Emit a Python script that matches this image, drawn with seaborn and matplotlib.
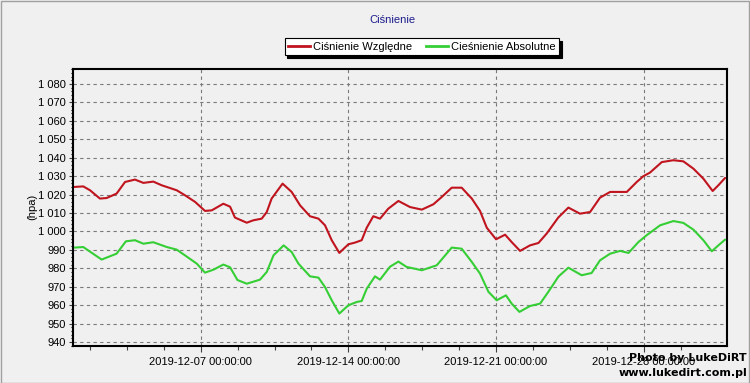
import numpy as np
import pandas as pd
import matplotlib
matplotlib.use("Agg")
import matplotlib.pyplot as plt
import matplotlib.dates as mdates
from matplotlib.ticker import FuncFormatter, MultipleLocator, FixedLocator
from matplotlib.patches import Rectangle
import seaborn as sns

# ---------------- data ----------------
start_date = "2019-12-01"

# days since start, Ciśnienie Względne (hPa)
rel_days = [0, 0.43, 0.75, 1.22, 1.54, 2.01, 2.41, 2.88, 3.28, 3.75, 4.15, 4.86,
            5.25, 5.73, 6.2, 6.52, 7.07, 7.39, 7.62, 8.18, 8.49, 8.89, 9.13, 9.36,
            9.88, 10.31, 10.71, 11.18, 11.58, 11.89, 12.21, 12.57, 13.0, 13.31,
            13.63, 13.87, 14.18, 14.5, 14.89, 15.37, 15.92, 16.48, 17.03, 17.43,
            17.9, 18.37, 18.85, 19.24, 19.56, 20.0, 20.43, 20.74, 21.14, 21.61,
            22.01, 22.4, 22.95, 23.43, 23.98, 24.46, 24.93, 25.41, 26.2, 26.67,
            26.98, 27.3, 27.86, 28.41, 28.88, 29.36, 29.83, 30.27, 30.54, 30.86]
rel_values = [1024.1, 1024.4, 1022.3, 1017.8, 1018.1, 1020.5, 1026.8, 1028.1, 1026.3,
              1027.0, 1025.0, 1022.3, 1019.6, 1016.0, 1011.1, 1011.4, 1015.0, 1013.4,
              1007.5, 1004.7, 1006.0, 1006.9, 1010.5, 1017.8, 1025.9, 1021.4, 1014.1,
              1008.2, 1006.9, 1003.3, 995.2, 988.3, 993.0, 993.9, 995.2, 1002.0,
              1008.2, 1006.9, 1012.3, 1016.5, 1013.2, 1011.8, 1014.7, 1018.7, 1023.7,
              1023.7, 1017.8, 1011.1, 1002.0, 995.7, 998.2, 994.2, 989.4, 992.4,
              993.7, 998.8, 1007.5, 1012.9, 1009.6, 1010.5, 1018.3, 1021.4, 1021.4,
              1026.8, 1029.9, 1031.9, 1037.6, 1038.6, 1038.0, 1034.0, 1028.6, 1021.9,
              1025.0, 1029.0]

# days since start, Cieśnienie Absolutne (hPa)
abs_days = [0, 0.43, 1.3, 2.01, 2.45, 2.88, 3.28, 3.75, 4.39, 4.86, 5.25, 5.81, 6.2,
            6.6, 7.07, 7.39, 7.74, 8.18, 8.81, 9.13, 9.45, 9.93, 10.31, 10.63, 11.18,
            11.58, 11.89, 12.21, 12.57, 13.0, 13.4, 13.63, 13.87, 14.26, 14.5, 14.97,
            15.37, 15.76, 16.48, 17.19, 17.9, 18.37, 18.85, 19.24, 19.64, 20.03,
            20.47, 20.74, 21.11, 21.61, 22.09, 22.48, 22.96, 23.43, 24.06, 24.53,
            24.93, 25.41, 25.88, 26.28, 26.75, 27.14, 27.78, 28.41, 28.88, 29.36,
            29.83, 30.23, 30.54, 30.86]
abs_values = [991.2, 991.5, 984.7, 987.9, 994.6, 995.2, 993.3, 994.1, 991.5, 990.1,
              987.0, 982.5, 977.6, 979.2, 982.0, 980.5, 973.6, 971.6, 973.8, 978.0,
              987.0, 992.4, 988.8, 982.5, 975.6, 974.9, 969.8, 962.6, 955.4, 959.9,
              961.7, 962.2, 968.9, 975.6, 973.8, 980.8, 983.6, 980.7, 978.9, 981.6,
              991.2, 990.6, 983.4, 977.1, 967.2, 962.6, 965.3, 960.8, 956.3, 959.5,
              960.8, 967.2, 975.5, 980.3, 976.2, 977.4, 984.3, 987.9, 989.4, 988.3,
              994.2, 997.9, 1003.3, 1005.6, 1004.6, 1000.9, 995.2, 989.2, 992.4, 995.5]

series_names = ["Ciśnienie Względne", "Cieśnienie Absolutne"]
major_dates = ["2019-12-07", "2019-12-14", "2019-12-21", "2019-12-28"]
y_ticks = list(range(940, 1081, 10))

# ---------------- build frame ----------------
base = pd.Timestamp(start_date)
df = pd.concat([
    pd.DataFrame({"time": base + pd.to_timedelta(rel_days, unit="D"),
                  "value": rel_values, "series": series_names[0]}),
    pd.DataFrame({"time": base + pd.to_timedelta(abs_days, unit="D"),
                  "value": abs_values, "series": series_names[1]}),
], ignore_index=True)

# ---------------- style ----------------
BG = "#f0f0f0"
RED = "#c0141e"
GREEN = "#35cf35"
plt.rcParams["font.family"] = ["Liberation Sans", "DejaVu Sans"]
plt.rcParams["font.size"] = 8

fig = plt.figure(figsize=(7.5, 3.83), dpi=100, facecolor=BG)
ax = fig.add_axes([73 / 750, 1 - 346 / 383, (727 - 73) / 750, (346 - 69) / 383])
ax.set_facecolor(BG)

sns.lineplot(data=df, x="time", y="value", hue="series",
             palette={series_names[0]: RED, series_names[1]: GREEN},
             linewidth=1.5, ax=ax, legend=False, estimator=None, sort=False,
             solid_joinstyle="round", solid_capstyle="round")

# axes limits
ax.set_xlim(base - pd.Timedelta(days=0.057), base + pd.Timedelta(days=30.95))
ax.set_ylim(937.8, 1088.1)

# ticks
major_pos = [mdates.date2num(pd.Timestamp(d)) for d in major_dates]
ax.xaxis.set_major_locator(FixedLocator(major_pos))
ax.xaxis.set_major_formatter(mdates.DateFormatter("%Y-%m-%d %H:%M:%S"))
minor_pos = [major_pos[0] + k * 1.75 for k in range(-4, 14)]
ax.xaxis.set_minor_locator(FixedLocator(minor_pos))
ax.yaxis.set_major_locator(FixedLocator(y_ticks))
ax.yaxis.set_minor_locator(MultipleLocator(2))
ax.yaxis.set_major_formatter(FuncFormatter(lambda v, p: f"{int(round(v)):,}".replace(",", " ")))

ax.tick_params(axis="x", which="major", length=4, width=0.8, pad=4, labelsize=8, color="#404040")
ax.tick_params(axis="x", which="minor", length=3, width=0.8, color="#404040")
ax.tick_params(axis="y", which="major", length=3, width=0.8, pad=2, labelsize=8, color="#404040")
ax.tick_params(axis="y", which="minor", length=1.5, width=0.8, color="#000000")

ax.set_xlabel("")
ax.set_ylabel("")

# grid
ax.grid(True, which="major", color="#7a7a7a", linestyle=(0, (3, 3)), linewidth=0.8)
ax.set_axisbelow(True)

for s in ax.spines.values():
    s.set_color("black")
    s.set_linewidth(1.5)

# title, y-label
fig.text(392 / 750, 1 - 20 / 383, "Ciśnienie", color="#1c1c8c", fontsize=8,
         ha="center", va="center")
fig.text(32 / 750, 1 - 207 / 383, "(hpa)", rotation=90, fontsize=8,
         ha="center", va="center")

# legend
handles = [plt.Line2D([], [], color=RED, linewidth=2),
           plt.Line2D([], [], color=GREEN, linewidth=2)]
leg = fig.legend(handles, series_names, loc="center",
                 bbox_to_anchor=(422 / 750, 1 - 46.5 / 383), ncol=2,
                 frameon=True, fancybox=False, shadow={"color": "black", "alpha": 1},
                 fontsize=8, handlelength=2.0, handletextpad=0.3, columnspacing=1.2,
                 borderpad=0.3, borderaxespad=0)
leg.get_frame().set_edgecolor("black")
leg.get_frame().set_facecolor("white")
leg.get_frame().set_linewidth(0.8)

# watermark
fig.text(747 / 750, 1 - 358 / 383, "Photo by LukeDiRT", fontsize=8, fontweight="bold",
         family="DejaVu Sans", ha="right", va="center", color="black")
fig.text(747 / 750, 1 - 373 / 383, "www.lukedirt.com.pl", fontsize=8, fontweight="bold",
         family="DejaVu Sans", ha="right", va="center", color="black")

# figure border
fig.patches.append(Rectangle((0.001, 0.001), 0.998, 0.997, transform=fig.transFigure,
                             fill=False, edgecolor="#a0a0a0", linewidth=1))

fig.savefig("out.png", dpi=100, facecolor=BG)
